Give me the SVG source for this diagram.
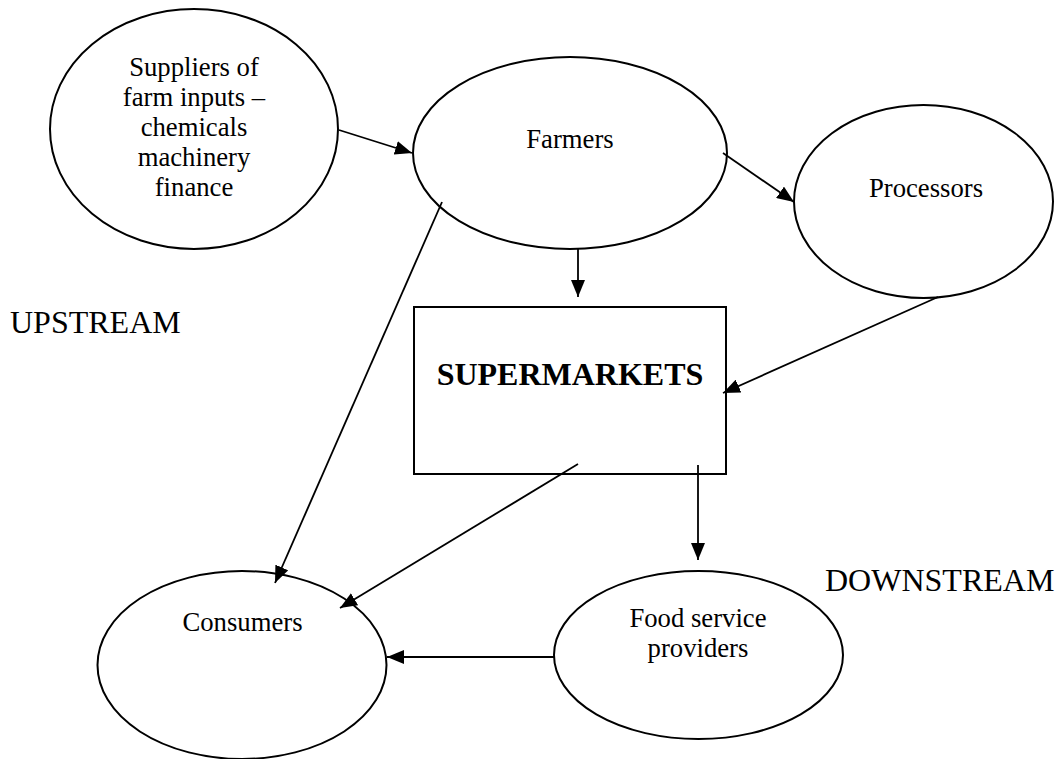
<svg xmlns="http://www.w3.org/2000/svg" width="1055" height="759" viewBox="0 0 1055 759">
<style>
.n{fill:#fff;stroke:#000;stroke-width:2}
.t{font-family:"Liberation Serif","Times New Roman",serif;font-size:26.7px;fill:#000;text-anchor:middle}
.b{font-family:"Liberation Serif","Times New Roman",serif;font-size:32px;font-weight:bold;fill:#000;text-anchor:middle}
.l{font-family:"Liberation Serif","Times New Roman",serif;font-size:32px;fill:#000}
.c{stroke:#000;stroke-width:1.8;fill:none;marker-end:url(#ah)}
</style>
<defs>
<marker id="ah" markerUnits="userSpaceOnUse" markerWidth="18" markerHeight="14" refX="17" refY="7" orient="auto">
<path d="M0,0 L17,7 L0,14 z" fill="#000"/>
</marker>
</defs>
<rect width="1055" height="759" fill="#fff"/>
<g id="suppliers">
<ellipse class="n" cx="194" cy="129" rx="144" ry="120"/>
<text class="t" x="194" y="76">Suppliers of</text>
<text class="t" x="194" y="106">farm inputs –</text>
<text class="t" x="194" y="136">chemicals</text>
<text class="t" x="194" y="166">machinery</text>
<text class="t" x="194" y="196">finance</text>
</g>
<g id="farmers">
<ellipse class="n" cx="570" cy="153" rx="157" ry="96"/>
<text class="t" x="570" y="148">Farmers</text>
</g>
<g id="processors">
<ellipse class="n" cx="923.5" cy="201.5" rx="129.5" ry="96.5"/>
<text class="t" x="926" y="197">Processors</text>
</g>
<g id="supermarkets">
<rect class="n" x="414" y="307" width="312" height="167"/>
<text class="b" x="570" y="385">SUPERMARKETS</text>
</g>
<g id="consumers">
<ellipse class="n" cx="242" cy="665" rx="144.5" ry="94"/>
<text class="t" x="242.5" y="631">Consumers</text>
</g>
<g id="foodservice">
<ellipse class="n" cx="698.5" cy="655" rx="144.5" ry="84"/>
<text class="t" x="698" y="627">Food service</text>
<text class="t" x="698" y="657">providers</text>
</g>
<g id="labels">
<text class="l" x="10" y="333">UPSTREAM</text>
<text class="l" x="825" y="591">DOWNSTREAM</text>
</g>
<g id="connectors">
<line class="c" x1="339" y1="130" x2="412" y2="153"/>
<line class="c" x1="723" y1="153" x2="794" y2="202"/>
<line class="c" x1="578" y1="249" x2="578" y2="297"/>
<line class="c" x1="442" y1="202" x2="275" y2="583"/>
<line class="c" x1="938" y1="297" x2="723" y2="393"/>
<line class="c" x1="578" y1="464" x2="340" y2="608"/>
<line class="c" x1="698" y1="465" x2="698" y2="560"/>
<line class="c" x1="554" y1="657" x2="387" y2="657"/>
</g>
</svg>
